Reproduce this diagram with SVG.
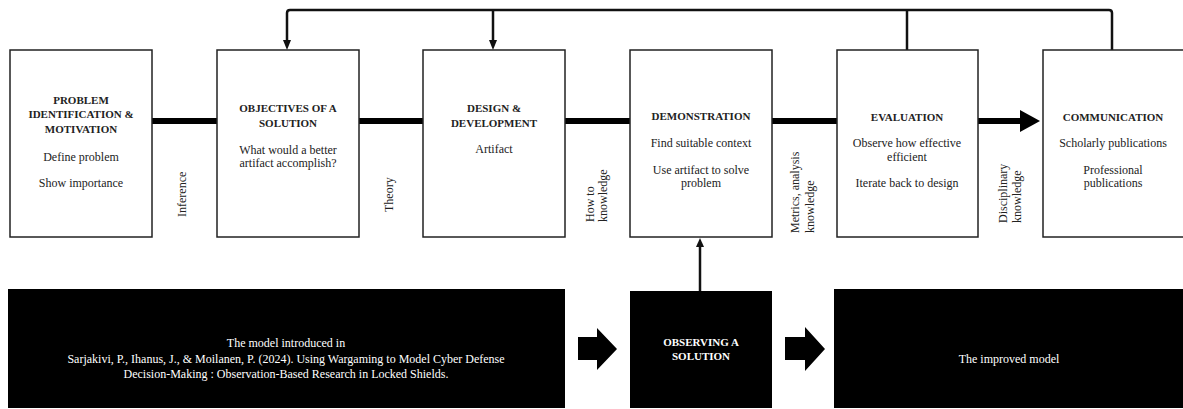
<svg xmlns="http://www.w3.org/2000/svg" width="1183" height="409" viewBox="0 0 1183 409">
<style>
text{font-family:"Liberation Serif","Times New Roman",serif;fill:#222;}
.t{font-size:11px;font-weight:bold;text-anchor:middle;}
.b{font-size:12px;text-anchor:middle;}
.l{font-size:12px;}
.w{fill:#fff;}
.box{fill:#fff;stroke:#222;stroke-width:1.5;}
.dark{fill:#000;}
.thin{fill:none;stroke:#111;stroke-width:2.5;}
</style>
<defs>
<marker id="ah" markerWidth="4" markerHeight="4" refX="3" refY="2" orient="auto" markerUnits="strokeWidth">
<path d="M0,0 L4,2 L0,4 z" fill="#111"/>
</marker>
</defs>
<g id="connectors">
<line x1="152" y1="121" x2="1022" y2="121" stroke="#000" stroke-width="6"/>
<polygon points="1020,110 1040,121 1020,132" fill="#000"/>
<path class="thin" d="M287,44 V13 Q287,10 290,10 H1109 Q1112,10 1112,13 V50"/>
<polygon points="283,40 291,40 287,50" fill="#111"/>
<path class="thin" d="M493,10 V44"/>
<polygon points="489,40 497,40 493,50" fill="#111"/>
<path class="thin" d="M907,10 V50"/>
<path class="thin" d="M700,291 V244" stroke-width="2"/>
<polygon points="696,247 704,247 700,238" fill="#111"/>
<polygon points="578,337 597,337 597,328 617,349 597,370 597,360 578,360" fill="#000"/>
<polygon points="785,337 805,337 805,327 825,349 805,371 805,360 785,360" fill="#000"/>
</g>
<g id="problem">
<rect class="box" x="10" y="50" width="142" height="187"/>
<text class="t" x="81" y="104">PROBLEM</text>
<text class="t" x="81" y="118">IDENTIFICATION &amp;</text>
<text class="t" x="81" y="133">MOTIVATION</text>
<text class="b" x="81" y="161">Define problem</text>
<text class="b" x="81" y="187">Show importance</text>
</g>
<g id="objectives">
<rect class="box" x="217" y="50" width="142" height="187"/>
<text class="t" x="288" y="112">OBJECTIVES OF A</text>
<text class="t" x="288" y="127">SOLUTION</text>
<text class="b" x="288" y="154">What would a better</text>
<text class="b" x="288" y="167">artifact accomplish?</text>
</g>
<g id="design">
<rect class="box" x="423" y="50" width="142" height="187"/>
<text class="t" x="494" y="112">DESIGN &amp;</text>
<text class="t" x="494" y="127">DEVELOPMENT</text>
<text class="b" x="494" y="153">Artifact</text>
</g>
<g id="demonstration">
<rect class="box" x="630" y="50" width="142" height="187"/>
<text class="t" x="701" y="120">DEMONSTRATION</text>
<text class="b" x="701" y="147">Find suitable context</text>
<text class="b" x="701" y="174">Use artifact to solve</text>
<text class="b" x="701" y="187">problem</text>
</g>
<g id="evaluation">
<rect class="box" x="837" y="50" width="141" height="187"/>
<text class="t" x="907" y="121">EVALUATION</text>
<text class="b" x="907" y="147">Observe how effective</text>
<text class="b" x="907" y="161">efficient</text>
<text class="b" x="907" y="187">Iterate back to design</text>
</g>
<g id="communication">
<rect class="box" x="1043" y="50" width="142" height="187"/>
<text class="t" x="1113" y="121">COMMUNICATION</text>
<text class="b" x="1113" y="147">Scholarly publications</text>
<text class="b" x="1113" y="174">Professional</text>
<text class="b" x="1113" y="187">publications</text>
</g>
<g id="labels">
<text class="l" transform="translate(186,217) rotate(-90)">Inference</text>
<text class="l" transform="translate(393,212) rotate(-90)">Theory</text>
<text class="l" transform="translate(594,222) rotate(-90)"><tspan x="0" y="0">How to</tspan><tspan x="0" y="13">knowledge</tspan></text>
<text class="l" transform="translate(799,233) rotate(-90)"><tspan x="0" y="0">Metrics, analysis</tspan><tspan x="0" y="15">knowledge</tspan></text>
<text class="l" transform="translate(1007,223) rotate(-90)"><tspan x="0" y="0">Disciplinary</tspan><tspan x="0" y="14">knowledge</tspan></text>
</g>
<g id="model-introduced">
<rect class="dark" x="8" y="289" width="557" height="119"/>
<text class="b w" x="286" y="347">The model introduced in</text>
<text class="b w" x="286" y="363">Sarjakivi, P., Ihanus, J., &amp; Moilanen, P. (2024). Using Wargaming to Model Cyber Defense</text>
<text class="b w" x="286" y="378">Decision-Making : Observation-Based Research in Locked Shields.</text>
</g>
<g id="observing">
<rect class="dark" x="630" y="291" width="142" height="117"/>
<text class="t w" x="701" y="346">OBSERVING A</text>
<text class="t w" x="701" y="360">SOLUTION</text>
</g>
<g id="improved">
<rect class="dark" x="834" y="289" width="350" height="119"/>
<text class="b w" x="1009" y="363">The improved model</text>
</g>
</svg>
